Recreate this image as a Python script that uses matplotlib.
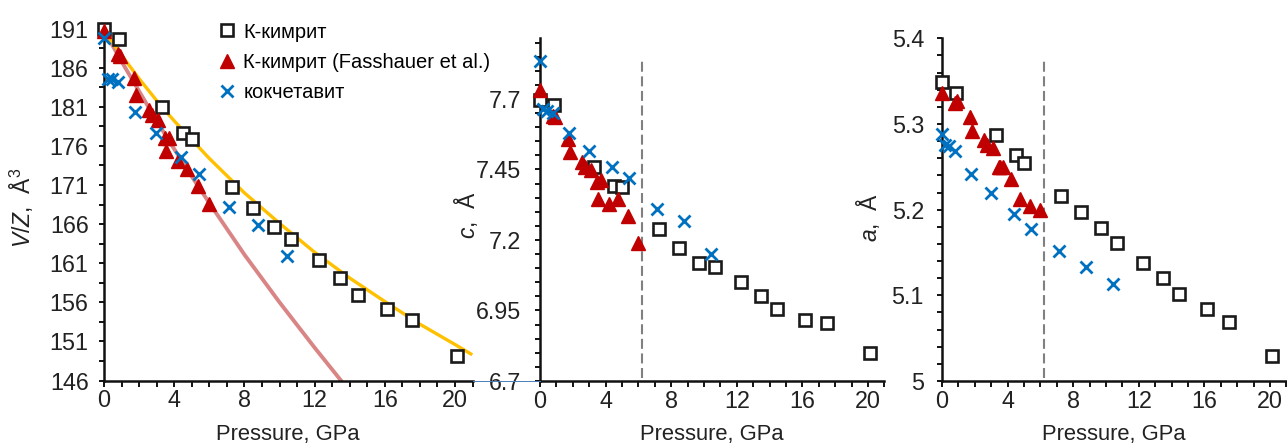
import matplotlib
matplotlib.use("Agg")
import matplotlib.pyplot as plt
from matplotlib.lines import Line2D
from matplotlib.ticker import FixedLocator, MultipleLocator

plt.rcParams.update({
    "font.family": ["Liberation Sans", "DejaVu Sans"],
    "mathtext.fontset": "custom",
    "mathtext.rm": "Liberation Sans",
    "mathtext.it": "Liberation Sans:italic",
})

# ---- K-kimrite (this work) ----
kim_P = [0, 0.85, 3.32, 4.52, 5.02, 7.28, 8.49, 9.67, 10.67, 12.27, 13.47, 14.47, 16.15, 17.52, 20.1]
kim_V = [190.9, 189.7, 181.0, 177.6, 176.9, 170.8, 168.0, 165.6, 164.1, 161.4, 159.1, 156.9, 155.1, 153.8, 149.1]
kim_c = [7.696, 7.68, 7.46, 7.39, 7.387, 7.24, 7.17, 7.12, 7.105, 7.052, 7.00, 6.955, 6.917, 6.905, 6.80]
kim_a = [5.349, 5.336, 5.287, 5.264, 5.254, 5.216, 5.197, 5.178, 5.161, 5.138, 5.12, 5.102, 5.084, 5.069, 5.029]

# ---- K-kimrite (Fasshauer et al.) ----
fas_P = [0, 0.8, 0.9, 1.72, 1.8, 2.55, 2.72, 3.1, 3.5, 3.7, 3.55, 4.2, 4.75, 5.35, 6.0]
fas_V = [190.7, 187.8, 187.5, 184.7, 182.5, 180.6, 179.9, 179.3, 177.0, 177.0, 175.4, 174.1, 173.0, 170.9, 168.6]
fas_c = [7.732, 7.64, 7.635, 7.557, 7.513, 7.478, 7.46, 7.448, 7.407, 7.413, 7.345, 7.328, 7.345, 7.286, 7.19]
fas_a = [5.336, 5.325, 5.327, 5.308, 5.292, 5.281, 5.276, 5.272, 5.25, 5.25, 5.25, 5.236, 5.212, 5.204, 5.20]

# ---- kokchetavite ----
kok_P = [0, 0.2, 0.45, 0.8, 1.78, 2.97, 4.38, 5.42, 7.12, 8.77, 10.43]
kok_V = [189.8, 184.6, 184.6, 184.2, 180.4, 177.6, 174.6, 172.4, 168.2, 165.9, 161.95]
kok_c = [7.835, 7.663, 7.657, 7.649, 7.578, 7.517, 7.46, 7.42, 7.31, 7.267, 7.15]
kok_a = [5.288, 5.275, 5.274, 5.268, 5.242, 5.22, 5.195, 5.177, 5.152, 5.133, 5.113]

# ---- equation-of-state curves ----
eos_kim_P = [0, 1, 2, 3, 4, 6, 8, 10, 12, 14, 16, 18, 20, 20.9]
eos_kim_V = [190.8, 187.6, 184.6, 181.8, 179.2, 174.4, 170.0, 166.1, 162.4, 159.1, 156.1, 153.2, 150.6, 149.4]
eos_fas_P = [0, 1, 2, 3, 4, 5, 6, 8, 10, 12, 13.5]
eos_fas_V = [190.8, 186.8, 183.0, 179.2, 175.6, 172.1, 168.7, 162.1, 156.0, 150.2, 146.0]

transition_P = 6.2

x_ticks = [0, 4, 8, 12, 16, 20]
V_ticks = [146, 151, 156, 161, 166, 171, 176, 181, 186, 191]
c_ticks = [6.7, 6.95, 7.2, 7.45, 7.7]
c_tick_labels = ["6.7", "6.95", "7.2", "7.45", "7.7"]
a_ticks = [5.0, 5.1, 5.2, 5.3, 5.4]
a_tick_labels = ["5", "5.1", "5.2", "5.3", "5.4"]

labels = ["К-кимрит", "К-кимрит (Fasshauer et al.)", "кокчетавит"]

W, H = 1287, 443
fig = plt.figure(figsize=(W / 100, H / 100), dpi=100)


def px_axes(x0, x1, ytop, ybot):
    return fig.add_axes([x0 / W, (H - ybot) / H, (x1 - x0) / W, (ybot - ytop) / H])


ax1 = px_axes(104, 472.6, 26.3, 380.5)
ax2 = px_axes(540, 884.4, 38.3, 381)
ax3 = px_axes(942, 1286.4, 38.3, 381)

sq = dict(marker="s", ms=8.3, mfc="white", mec="#1a1a1a", mew=1.9, ls="none", clip_on=False, zorder=3)
tri = dict(marker="^", ms=9.5, color="#C00000", mec="#C00000", ls="none", clip_on=False, zorder=4)
crs = dict(marker="x", ms=8, mec="#0070C0", mew=2.0, ls="none", clip_on=False, zorder=5)

# volume panel
ax1.plot(eos_fas_P, eos_fas_V, color="#D98585", lw=2.8, zorder=2)
ax1.plot(eos_kim_P, eos_kim_V, color="#FFC000", lw=2.4, zorder=2)
h1, = ax1.plot(kim_P, kim_V, **sq)
h2, = ax1.plot(fas_P, fas_V, **tri)
h3, = ax1.plot(kok_P, kok_V, **crs)

# c-parameter panel
ax2.plot(kim_P, kim_c, **sq)
ax2.plot(fas_P, fas_c, **tri)
ax2.plot(kok_P, kok_c, **crs)

# a-parameter panel
ax3.plot(kim_P, kim_a, **sq)
ax3.plot(fas_P, fas_a, **tri)
ax3.plot(kok_P, kok_a, **crs)

for ax in (ax2, ax3):
    ax.axvline(transition_P, ymin=0.01, ymax=0.94, color="#808080", lw=1.5,
               dashes=(4.8, 2.2), zorder=1)

ax1.set_xlim(0, 21)
ax1.set_ylim(146, 191.3)
ax2.set_xlim(0, 21)
ax2.set_ylim(6.7, 7.915)
ax3.set_xlim(0, 21)
ax3.set_ylim(5.0, 5.4)

ax1.yaxis.set_major_locator(FixedLocator(V_ticks))
ax1.yaxis.set_minor_locator(FixedLocator([v + 2.5 for v in V_ticks[:-1]]))
ax2.yaxis.set_major_locator(FixedLocator(c_ticks))
ax2.set_yticklabels(c_tick_labels)
ax2.yaxis.set_minor_locator(MultipleLocator(0.05))
ax3.yaxis.set_major_locator(FixedLocator(a_ticks))
ax3.set_yticklabels(a_tick_labels)
ax3.yaxis.set_minor_locator(MultipleLocator(0.02))

ypads = {ax1: 7.5, ax2: 10.3, ax3: 9.4}
for ax in (ax1, ax2, ax3):
    ax.xaxis.set_major_locator(FixedLocator(x_ticks))
    ax.xaxis.set_minor_locator(MultipleLocator(1))
    for s in ("top", "right"):
        ax.spines[s].set_visible(False)
    for s in ("left", "bottom"):
        ax.spines[s].set_linewidth(1.8)
        ax.spines[s].set_color("#111111")
    ax.tick_params(axis="x", which="both", direction="out", length=4.3, width=1.4,
                   color="#111111", labelsize=16.8, pad=2.0, labelcolor="#222222")
    ax.tick_params(axis="y", which="both", direction="out", length=3.6, width=1.4,
                   color="#111111", labelsize=16.8, pad=ypads[ax], labelcolor="#222222")
    ax.set_xlabel("Pressure, GPa", fontsize=15.8, color="#222222")
    ax.xaxis.label.set_va("center")

ax1.xaxis.set_label_coords(0.5, -0.152)
ax2.xaxis.set_label_coords(0.5, -0.156)
ax3.xaxis.set_label_coords(0.5, -0.156)

ax1.set_ylabel("$\\mathit{V/Z}$,  Å$^{3}$", fontsize=16.5, color="#222222", va="center")
ax2.set_ylabel("$\\mathit{c}$,  Å", fontsize=16.5, color="#222222", va="center")
ax3.set_ylabel("$\\mathit{a}$,  Å", fontsize=16.5, color="#222222", va="center")
ax1.yaxis.set_label_coords(-0.2225, 0.487)
ax2.yaxis.set_label_coords(-0.215, 0.484)
ax3.yaxis.set_label_coords(-0.215, 0.476)

ax1.legend([h1, h2, h3], labels, loc="upper left",
           bbox_to_anchor=(217.0 / W, 1 - 22.5 / H), bbox_transform=fig.transFigure,
           frameon=False, fontsize=14.5, handlelength=0.95, handletextpad=0.35,
           labelspacing=0.55, borderpad=0, borderaxespad=0, markerscale=1.1)

# thin baseline joining the first two panels
fig.add_artist(Line2D([472.6 / W, 540 / W], [(H - 381) / H] * 2,
                      transform=fig.transFigure, color="#4A7EBB", lw=0.7))

fig.savefig("out.png", dpi=100)
